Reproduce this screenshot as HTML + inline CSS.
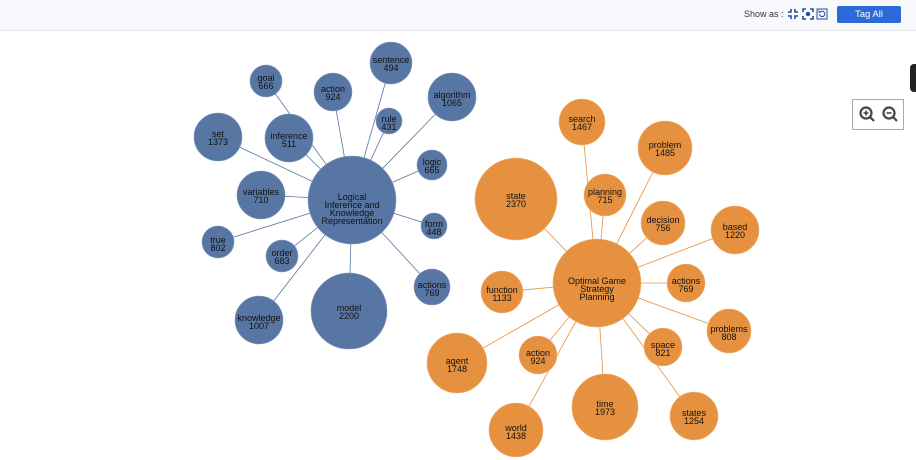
<!DOCTYPE html>
<html><head><style>
body{margin:0;width:916px;height:460px;overflow:hidden;background:#fff;font-family:"Liberation Sans",sans-serif;position:relative}
.top{position:absolute;left:0;top:0;width:916px;height:30px;background:#f8f9fc;border-bottom:1px solid #e6e8ee}
.show{position:absolute;left:744px;top:9px;font-size:9px;color:#333}
.btn{position:absolute;left:837px;top:6px;width:64px;height:17px;background:#2d6ad9;color:#fff;font-size:9.5px;text-align:center;line-height:17px;border-radius:2px}
.tab{position:absolute;left:910px;top:64px;width:8px;height:28px;background:#222;border-radius:4px 0 0 4px}
.zoom{position:absolute;left:852px;top:99px;width:50px;height:29px;border:1px solid #aaa;background:#fff}
svg text{font-family:"Liberation Sans",sans-serif;font-size:9px;fill:#111;text-anchor:middle}
</style></head><body>
<div class="top"></div>
<div class="show">Show as :</div>
<svg style="position:absolute;left:786px;top:7px" width="44" height="14" viewBox="0 0 44 14">
<g stroke="#1f4f9a" stroke-width="1.6" fill="none">
<path d="M2 5h3V2M9 2v3h3M2 9h3v3M9 12V9h3"/>
<path d="M17 5V2h3M24 2h3v3M17 9v3h3M24 12h3V9"/><circle cx="22" cy="7" r="1.4" fill="#1f4f9a"/>
<rect x="31" y="2" width="10" height="10" stroke-width="1"/><path d="M33.5 7a2.7 2.7 0 1 0 1-2.2M33 3.5v1.8h1.8" stroke-width="1"/>
</g></svg>
<div class="btn">Tag All</div>
<div class="tab"></div>
<div class="zoom"><svg width="50" height="29">
<g stroke="#444" stroke-width="2.2" fill="none"><circle cx="13" cy="13" r="5.5"/><path d="M17 17l4 4"/><path d="M10.5 13h5M13 10.5v5" stroke-width="1.6"/>
<circle cx="36" cy="13" r="5.5"/><path d="M40 17l4 4"/><path d="M33.5 13h5" stroke-width="1.6"/></g></svg></div>
<svg style="position:absolute;left:0;top:0" width="916" height="460">
<g stroke="#5876a3" stroke-width="0.8">
<line x1="352" y1="200" x2="391" y2="63"/><line x1="352" y1="200" x2="333" y2="92"/><line x1="352" y1="200" x2="266" y2="81"/><line x1="352" y1="200" x2="452" y2="97"/><line x1="352" y1="200" x2="389" y2="121"/><line x1="352" y1="200" x2="289" y2="138"/><line x1="352" y1="200" x2="218" y2="137"/><line x1="352" y1="200" x2="432" y2="165"/><line x1="352" y1="200" x2="261" y2="195"/><line x1="352" y1="200" x2="434" y2="226"/><line x1="352" y1="200" x2="218" y2="242"/><line x1="352" y1="200" x2="282" y2="256"/><line x1="352" y1="200" x2="432" y2="287"/><line x1="352" y1="200" x2="259" y2="320"/><line x1="352" y1="200" x2="349" y2="311"/>
</g>
<g stroke="#e6913f" stroke-width="0.8">
<line x1="597" y1="283" x2="582" y2="122"/><line x1="597" y1="283" x2="665" y2="148"/><line x1="597" y1="283" x2="516" y2="199"/><line x1="597" y1="283" x2="605" y2="195"/><line x1="597" y1="283" x2="663" y2="223"/><line x1="597" y1="283" x2="735" y2="230"/><line x1="597" y1="283" x2="686" y2="283"/><line x1="597" y1="283" x2="502" y2="292"/><line x1="597" y1="283" x2="729" y2="331"/><line x1="597" y1="283" x2="663" y2="347"/><line x1="597" y1="283" x2="457" y2="363"/><line x1="597" y1="283" x2="538" y2="355"/><line x1="597" y1="283" x2="605" y2="407"/><line x1="597" y1="283" x2="694" y2="416"/><line x1="597" y1="283" x2="516" y2="430"/>
</g>
<g fill="#5876a3" stroke="#7f97bd" stroke-width="0.6">
<circle cx="352" cy="200" r="44"/><circle cx="391" cy="63" r="21"/><circle cx="333" cy="92" r="19"/><circle cx="266" cy="81" r="16"/><circle cx="452" cy="97" r="24"/><circle cx="389" cy="121" r="13"/><circle cx="289" cy="138" r="24"/><circle cx="218" cy="137" r="24"/><circle cx="432" cy="165" r="15"/><circle cx="261" cy="195" r="24"/><circle cx="434" cy="226" r="13"/><circle cx="218" cy="242" r="16"/><circle cx="282" cy="256" r="16"/><circle cx="432" cy="287" r="18"/><circle cx="259" cy="320" r="24"/><circle cx="349" cy="311" r="38"/>
</g>
<g fill="#e6913f" stroke="#f0b37a" stroke-width="0.6">
<circle cx="597" cy="283" r="44"/><circle cx="582" cy="122" r="23"/><circle cx="665" cy="148" r="27"/><circle cx="516" cy="199" r="41"/><circle cx="605" cy="195" r="21"/><circle cx="663" cy="223" r="22"/><circle cx="735" cy="230" r="24"/><circle cx="686" cy="283" r="19"/><circle cx="502" cy="292" r="21"/><circle cx="729" cy="331" r="22"/><circle cx="663" cy="347" r="19"/><circle cx="457" cy="363" r="30"/><circle cx="538" cy="355" r="19"/><circle cx="605" cy="407" r="33"/><circle cx="694" cy="416" r="24"/><circle cx="516" cy="430" r="27"/>
</g>
<g>
<text x="352" y="200">Logical</text><text x="352" y="208">Inference and</text><text x="352" y="216">Knowledge</text><text x="352" y="224">Representation</text>
<text x="391" y="63">sentence</text><text x="391" y="71">494</text>
<text x="333" y="92">action</text><text x="333" y="100">924</text>
<text x="266" y="81">goal</text><text x="266" y="89">666</text>
<text x="452" y="98">algorithm</text><text x="452" y="106">1065</text>
<text x="389" y="122">rule</text><text x="389" y="130">431</text>
<text x="289" y="139">inference</text><text x="289" y="147">511</text>
<text x="218" y="137">set</text><text x="218" y="145">1373</text>
<text x="432" y="165">logic</text><text x="432" y="173">665</text>
<text x="261" y="195">variables</text><text x="261" y="203">710</text>
<text x="434" y="227">form</text><text x="434" y="235">448</text>
<text x="218" y="243">true</text><text x="218" y="251">802</text>
<text x="282" y="256">order</text><text x="282" y="264">683</text>
<text x="432" y="288">actions</text><text x="432" y="296">769</text>
<text x="259" y="321">knowledge</text><text x="259" y="329">1007</text>
<text x="349" y="311">model</text><text x="349" y="319">2200</text>
<text x="597" y="284">Optimal Game</text><text x="597" y="292">Strategy</text><text x="597" y="300">Planning</text>
<text x="582" y="122">search</text><text x="582" y="130">1467</text>
<text x="665" y="148">problem</text><text x="665" y="156">1485</text>
<text x="516" y="199">state</text><text x="516" y="207">2370</text>
<text x="605" y="195">planning</text><text x="605" y="203">715</text>
<text x="663" y="223">decision</text><text x="663" y="231">756</text>
<text x="735" y="230">based</text><text x="735" y="238">1220</text>
<text x="686" y="284">actions</text><text x="686" y="292">769</text>
<text x="502" y="293">function</text><text x="502" y="301">1133</text>
<text x="729" y="332">problems</text><text x="729" y="340">808</text>
<text x="663" y="348">space</text><text x="663" y="356">821</text>
<text x="457" y="364">agent</text><text x="457" y="372">1748</text>
<text x="538" y="356">action</text><text x="538" y="364">924</text>
<text x="605" y="407">time</text><text x="605" y="415">1973</text>
<text x="694" y="416">states</text><text x="694" y="424">1254</text>
<text x="516" y="431">world</text><text x="516" y="439">1438</text>
</g>
</svg>
</body></html>
